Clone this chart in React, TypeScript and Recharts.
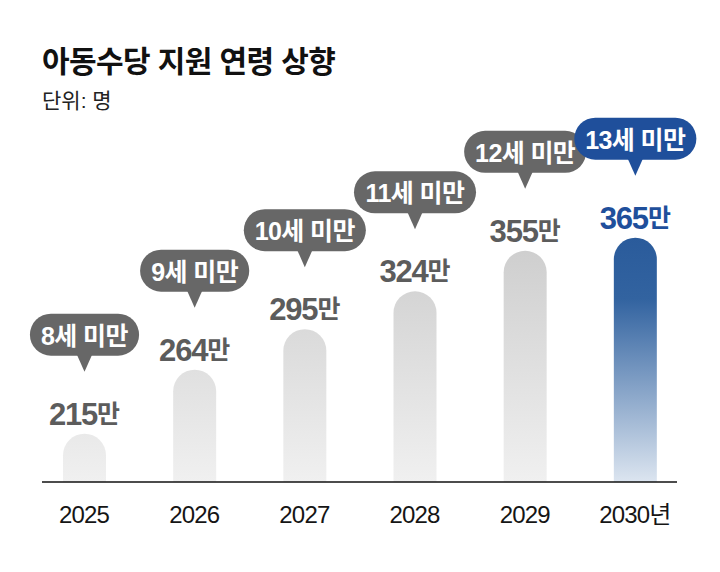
import { BarChart, Bar, XAxis, YAxis, Cell, LabelList } from "recharts";

const years = ["2025", "2026", "2027", "2028", "2029", "2030년"];
const counts = [215, 264, 295, 324, 355, 365];
const ageLimits = ["8세 미만", "9세 미만", "10세 미만", "11세 미만", "12세 미만", "13세 미만"];

const data = years.map((year, i) => ({ year, count: counts[i], age: ageLimits[i] }));

const FONT = "'Liberation Sans', 'Noto Sans CJK KR', sans-serif";
const GRAY = "#5c5c5c";
const BUBBLE_GRAY = "#676767";
const BLUE = "#1f4f9b";
const LAST = data.length - 1;

// rough advance width, good enough to size the pill
const textWidth = (s: string, fs: number) =>
  [...s].reduce((w, c) => w + (/[0-9]/.test(c) ? 0.556 * fs - 1 : c === " " ? 0.28 * fs : fs * 0.95), 0);

function BarLabel(props: any) {
  const { x, y, width, index } = props;
  const d = data[index];
  const cx = x + width / 2;
  const highlight = index === LAST;
  const textColor = highlight ? BLUE : GRAY;
  const bubbleColor = highlight ? BLUE : BUBBLE_GRAY;

  const valueY = y - 20;
  const tipY = valueY - 42;
  const bubbleBottom = tipY - 16;
  const bubbleH = 42;
  const bubbleW = textWidth(d.age, 25) + 18;

  return (
    <g>
      <text x={cx} y={valueY} textAnchor="middle" dominantBaseline="central" fill={textColor} fontFamily={FONT} fontWeight={700}>
        <tspan fontSize={31} letterSpacing={-1.2}>{d.count}</tspan>
        <tspan fontSize={25}>만</tspan>
      </text>
      <rect
        x={cx - bubbleW / 2}
        y={bubbleBottom - bubbleH}
        width={bubbleW}
        height={bubbleH}
        rx={bubbleH / 2}
        fill={bubbleColor}
      />
      <path d={`M${cx - 8},${bubbleBottom - 2} L${cx + 8},${bubbleBottom - 2} L${cx},${tipY} Z`} fill={bubbleColor} />
      <text
        x={cx}
        y={bubbleBottom - bubbleH / 2 + 1}
        textAnchor="middle"
        dominantBaseline="central"
        fill="#fff"
        fontFamily={FONT}
        fontWeight={700}
        fontSize={25}
        letterSpacing={-0.6}
      >
        {d.age}
      </text>
    </g>
  );
}

function YearTick(props: any) {
  const { x, y, payload } = props;
  return (
    <text x={x} y={y + 32} textAnchor="middle" dominantBaseline="central" fill="#151515" fontFamily={FONT} fontSize={24} letterSpacing={-0.8}>
      {payload.value}
    </text>
  );
}

export default function App() {
  return (
    <div style={{ position: "absolute", left: 0, top: 0, width: 720, height: 572, background: "#fff", fontFamily: FONT }}>
      <div style={{ position: "absolute", left: 42, top: 37, fontSize: 30, fontWeight: 700, color: "#111", letterSpacing: -0.6 }}>
        아동수당 지원 연령 상향
      </div>
      <div style={{ position: "absolute", left: 42, top: 84, fontSize: 21, color: "#222" }}>단위: 명</div>
      <BarChart width={720} height={572} data={data} margin={{ top: 192, right: 43, bottom: 60, left: 42 }}>
        <defs>
          <linearGradient id="grayFill" gradientUnits="userSpaceOnUse" x1="0" y1="190" x2="0" y2="482">
            <stop offset="0" stopColor="#c6c6c6" />
            <stop offset="1" stopColor="#f0f0f0" />
          </linearGradient>
          <linearGradient id="blueFill" x1="0" y1="0" x2="0" y2="1">
            <stop offset="0" stopColor="#2a5b9b" />
            <stop offset="0.25" stopColor="#3263a0" />
            <stop offset="1" stopColor="#dce5f0" />
          </linearGradient>
        </defs>
        <YAxis hide domain={[178, 400]} allowDataOverflow />
        <XAxis
          dataKey="year"
          height={30}
          padding={{ left: -13, right: -13 }}
          axisLine={{ stroke: "#111", strokeWidth: 1.6 }}
          tickLine={false}
          tickSize={0}
          tickMargin={0}
          tick={<YearTick />}
          interval={0}
        />
        <Bar dataKey="count" barSize={43} radius={[21.5, 21.5, 0, 0]} isAnimationActive={false}>
          {data.map((d, i) => (
            <Cell key={d.year} fill={i === LAST ? "url(#blueFill)" : "url(#grayFill)"} />
          ))}
          <LabelList dataKey="count" content={<BarLabel />} />
        </Bar>
      </BarChart>
    </div>
  );
}
